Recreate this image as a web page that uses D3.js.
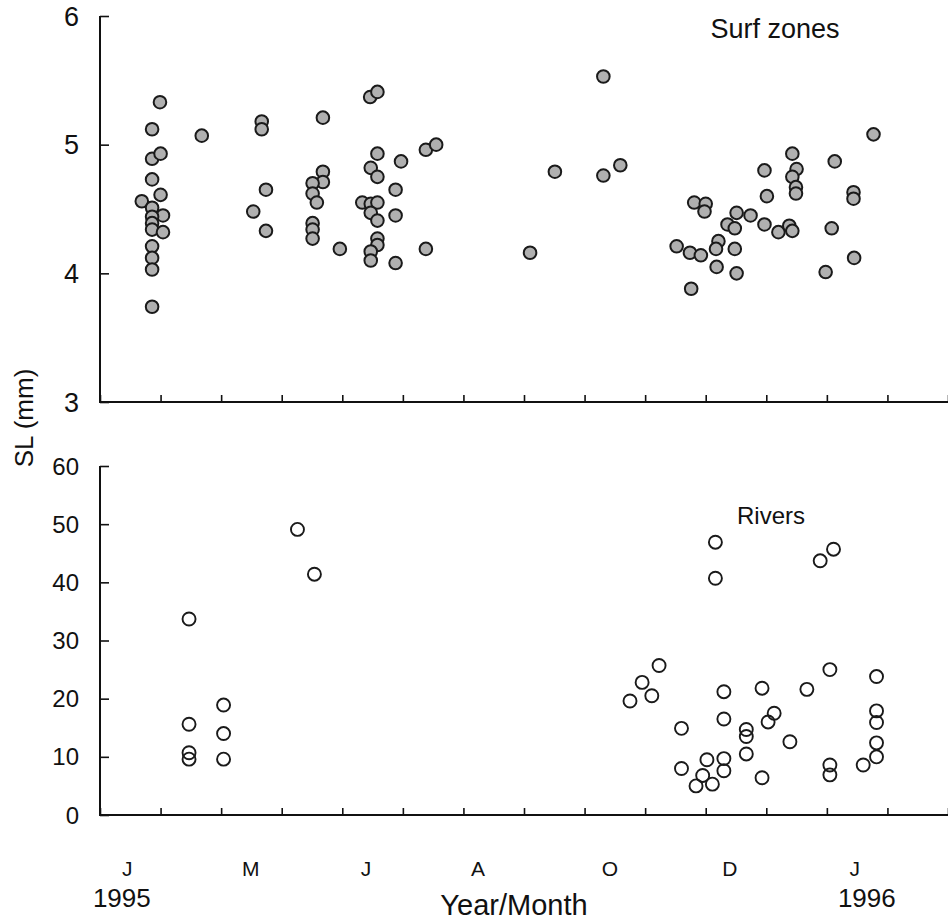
<!DOCTYPE html>
<html>
<head>
<meta charset="utf-8">
<script src="https://cdn.jsdelivr.net/npm/d3@7"></script>
<style>
  html, body { margin: 0; padding: 0; background: #fff; }
  svg { display: block; font-family: "Liberation Sans", Arial, sans-serif; }
</style>
</head>
<body>
<svg id="chart" width="948" height="923"></svg>
<script>
// ---- data (x in months from start of Jan 1995, y = SL in mm) ----
const surfMonth = [0.99,0.86,1.68,0.86,1.00,0.86,1.00,0.69,0.86,1.04,0.86,0.86,0.86,1.04,0.86,0.86,0.86,0.86,
  2.67,2.67,2.74,2.53,2.74,3.68,3.68,3.68,3.51,3.51,3.58,3.51,3.51,3.51,3.96,
  4.46,4.58,5.38,5.55,4.58,4.47,4.58,4.97,4.88,4.33,4.47,4.58,4.47,4.58,4.88,4.58,4.58,4.47,4.47,4.88,5.38,
  7.10,7.51,8.31,8.31,8.59,
  12.77,11.43,10.97,11.50,11.43,11.49,11.49,12.13,12.44,12.44,11.01,9.81,10.00,9.98,10.51,10.74,10.36,10.48,
  10.97,11.20,11.38,11.43,12.08,9.52,9.74,9.92,10.21,10.17,10.48,10.18,10.51,9.76,12.45,11.98];
const surfSL = [5.33,5.12,5.07,4.89,4.93,4.73,4.61,4.56,4.51,4.45,4.44,4.39,4.34,4.32,4.21,4.12,4.03,3.74,
  5.18,5.12,4.65,4.48,4.33,5.21,4.79,4.71,4.70,4.62,4.55,4.39,4.34,4.27,4.19,
  5.37,5.41,4.96,5.00,4.93,4.82,4.75,4.87,4.65,4.55,4.54,4.55,4.47,4.41,4.45,4.27,4.22,4.17,4.10,4.08,4.19,
  4.16,4.79,5.53,4.76,4.84,
  5.08,4.93,4.80,4.81,4.75,4.67,4.62,4.87,4.63,4.58,4.60,4.55,4.54,4.48,4.47,4.45,4.38,4.35,
  4.38,4.32,4.37,4.33,4.35,4.21,4.16,4.14,4.25,4.19,4.19,4.05,4.00,3.88,4.12,4.01];

const riverMonth = [1.47,1.47,1.47,1.47,2.04,2.04,2.04,3.26,3.54,
  10.16,10.16,12.11,11.89,9.23,8.95,9.11,8.75,12.05,12.82,10.30,10.93,11.67,10.30,11.13,11.03,
  10.67,10.67,10.67,9.60,11.39,12.82,12.82,12.82,12.82,12.60,12.05,12.05,9.60,10.30,10.30,
  10.02,9.95,9.84,10.11,10.93];
const riverSL = [33.7,15.6,10.7,9.6,18.9,14.0,9.6,49.1,41.4,
  46.9,40.7,45.7,43.7,25.7,22.8,20.5,19.6,25.0,23.8,21.2,21.8,21.6,16.5,17.5,16.0,
  14.7,13.5,10.5,14.9,12.6,17.9,15.9,12.4,10.0,8.6,8.6,6.9,8.0,9.7,7.6,
  9.5,6.8,5.0,5.3,6.4];

const monthTickValues = [0,1,2,3,4,5,6,7,8,9,10,11,12,13,14];
const monthLabels = ["J","M","J","A","O","D","J"];
const monthLabelAt = [0.45,2.49,4.39,6.24,8.42,10.4,12.46];
const yearLabels = ["1995","1996"];
const yearLabelAt = [0.36,12.66];
const surfTicks = [3,4,5,6];
const riverTicks = [0,10,20,30,40,50,60];

// ---- layout ----
const svg = d3.select("#chart");
const x = d3.scaleLinear().domain([0,14]).range([100,948]);
const ySurf = d3.scaleLinear().domain([3,6]).range([402,16]);
const yRiver = d3.scaleLinear().domain([0,60]).range([815,466]);

function drawAxes(yScale, yTicks, yBase, yTop, fontSize) {
  const g = svg.append("g");
  const ya = g.append("g").attr("transform","translate(100,0)")
    .call(d3.axisRight(yScale).tickValues(yTicks).tickSize(9).tickFormat(""));
  ya.select(".domain").remove();
  ya.selectAll("line").attr("stroke","#111").attr("stroke-width",1.6);
  g.append("line").attr("x1",100).attr("x2",100).attr("y1",yTop).attr("y2",yBase)
    .attr("stroke","#111").attr("stroke-width",2);
  g.selectAll("text.ytl").data(yTicks).enter().append("text")
    .attr("class","ytl")
    .attr("x",79).attr("y",d=>yScale(d))
    .attr("dy","0.36em")
    .attr("text-anchor","end")
    .attr("font-size",fontSize)
    .attr("fill","#111")
    .text(d=>d);
  const xa = g.append("g").attr("transform",`translate(0,${yBase})`)
    .call(d3.axisTop(x).tickValues(monthTickValues).tickSize(7).tickFormat(""));
  xa.select(".domain").remove();
  xa.selectAll("line").attr("stroke","#111").attr("stroke-width",1.6);
  g.append("line").attr("x1",99).attr("x2",948).attr("y1",yBase).attr("y2",yBase)
    .attr("stroke","#111").attr("stroke-width",2);
}

drawAxes(ySurf, surfTicks, 402, 16, 27);
drawAxes(yRiver, riverTicks, 815, 466, 24);

// ---- marks ----
svg.append("g").selectAll("circle").data(surfSL).enter().append("circle")
  .attr("cx",(d,i)=>x(surfMonth[i]))
  .attr("cy",d=>ySurf(d))
  .attr("r",6.3)
  .attr("fill","#b0b0b0")
  .attr("stroke","#1a1a1a")
  .attr("stroke-width",2);

svg.append("g").selectAll("circle").data(riverSL).enter().append("circle")
  .attr("cx",(d,i)=>x(riverMonth[i]))
  .attr("cy",d=>yRiver(d))
  .attr("r",6.5)
  .attr("fill","none")
  .attr("stroke","#1a1a1a")
  .attr("stroke-width",1.9);

// ---- texts ----
svg.append("text").attr("x",775).attr("y",38).attr("text-anchor","middle")
  .attr("font-size",27).attr("fill","#111").text("Surf zones");
svg.append("text").attr("x",771).attr("y",524).attr("text-anchor","middle")
  .attr("font-size",24).attr("fill","#111").text("Rivers");

svg.append("text").attr("transform","translate(33,418) rotate(-90)")
  .attr("text-anchor","middle").attr("font-size",26).attr("fill","#111").text("SL (mm)");

svg.append("g").selectAll("text").data(monthLabels).enter().append("text")
  .attr("x",(d,i)=>x(monthLabelAt[i])).attr("y",876)
  .attr("text-anchor","middle").attr("font-size",21).attr("fill","#111").text(d=>d);

svg.append("g").selectAll("text").data(yearLabels).enter().append("text")
  .attr("x",(d,i)=>x(yearLabelAt[i])).attr("y",907)
  .attr("text-anchor","middle").attr("font-size",26).attr("fill","#111").text(d=>d);

svg.append("text").attr("x",514).attr("y",915).attr("text-anchor","middle")
  .attr("font-size",29).attr("fill","#111").text("Year/Month");
</script>
</body>
</html>
